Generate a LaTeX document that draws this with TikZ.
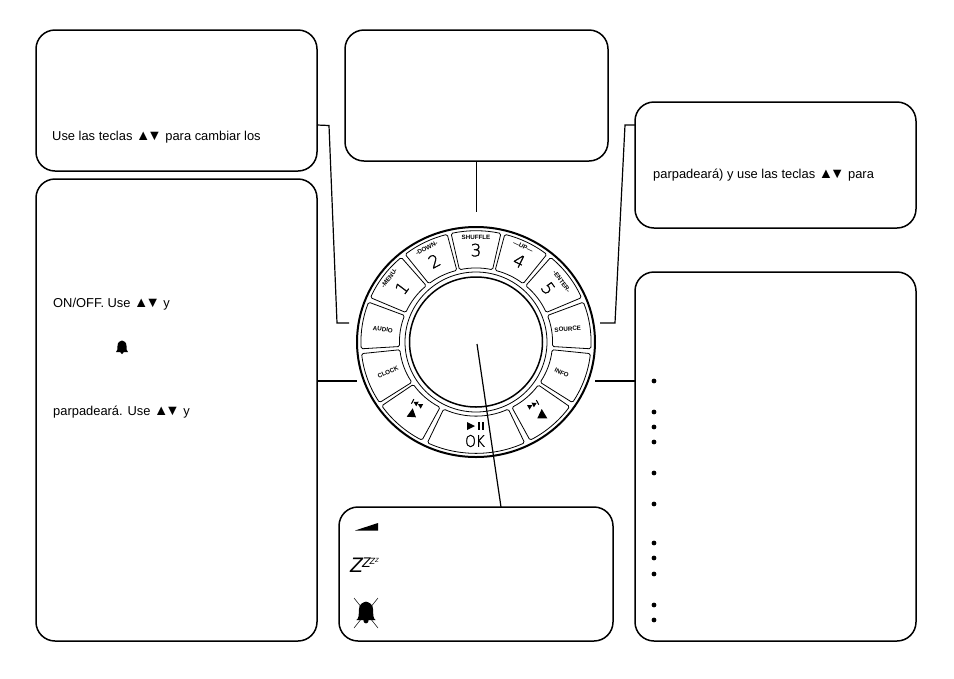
\documentclass[tikz,border=0pt]{standalone}
\usepackage{fontspec}
\setmainfont{Liberation Sans}
\newfontfamily\thinfont[FakeBold=1.5]{DejaVu Sans ExtraLight}
\usetikzlibrary{shapes.geometric}
\newcommand\updown{{\fontsize{14.5}{15}\selectfont▲\kern-3pt▼}}
\tikzset{
    panel/.style={draw,line width=1.5pt,rounded corners=19pt,inner sep=0pt,outer sep=0pt,anchor=north west},
    lead/.style={line width=1.2pt},
    copytext/.style={anchor=west,inner sep=0pt,font=\fontsize{12.9}{15}\selectfont},
    btn/.style={line width=0.8pt,rounded corners=1.5pt},
    keylabel/.style={inner sep=0pt,font=\fontsize{6.2}{7}\selectfont\bfseries},
    keydigit/.style={inner sep=0pt,font=\thinfont\fontsize{17}{20}\selectfont},
    bullet/.style={circle,fill,inner sep=0pt,minimum size=4.8pt},
    rim/.style={ellipse,draw,inner sep=0pt,outer sep=0pt},
    zletter/.style={anchor=north west,inner sep=0pt,font=\itshape},
    bell/.pic={
        \fill (-6,-5) .. controls (-4.5,-4) and (-4.5,-2) .. (-4.5,1) .. controls (-4.5,5) and (-2,6) .. (0,6.5)
            .. controls (2,6) and (4.5,5) .. (4.5,1) .. controls (4.5,-2) and (4.5,-4) .. (6,-5) -- cycle;
        \fill (0,-5.5) circle (1.6);
    },
    skip/.pic={
        \fill (-4.5,0) -- (0,2.6) -- (0,-2.6) -- cycle;
        \fill (0.5,0) -- (5,2.6) -- (5,-2.6) -- cycle;
        \fill (-6,-2.6) rectangle (-5,2.6);
    }
}
\begin{document}
\begin{tikzpicture}[x=1pt,y=1pt]
    \useasboundingbox (0,0) rectangle (954,-678);
    % panels
    \node[panel,minimum width=281pt,minimum height=141pt] (boxtime) at (36,-30) {};
    \node[panel,minimum width=281pt,minimum height=462pt] (boxalarm) at (36,-179) {};
    \node[panel,minimum width=263pt,minimum height=131pt] (boxshuffle) at (345,-30) {};
    \node[panel,minimum width=281pt,minimum height=126pt] (boxenter) at (635,-102) {};
    \node[panel,minimum width=281pt,minimum height=369pt] (boxinfo) at (635,-272) {};
    \node[panel,minimum width=274pt,minimum height=134pt] (boxvolume) at (339,-507) {};
    % texts
    \node[copytext] (txttime) at (52,-137) {Use las teclas \updown{} para cambiar los};
    \node[copytext] (txtonoff) at (53,-304) {ON/OFF. Use \updown{} y};
    \node[copytext] (txtblink) at (53,-412) {parpadeará. Use \updown{} y};
    \node[copytext] (txtenter) at (653,-175) {parpadeará) y use las teclas \updown{} para};
    \pic at (122,-347) {bell};
    \foreach \y in {381,412,427,442,473,504,543,558,574,605,620}
        \node[bullet] at (654,-\y) {};
    % dial
    \node[rim,line width=2pt,minimum width=238pt,minimum height=230pt] (dial) at (476,-342) {};
    \node[rim,line width=0.8pt,minimum width=142pt,minimum height=140pt] (ring) at (dial) {};
    \node[rim,line width=1.5pt,minimum width=133pt,minimum height=130pt] (knob) at (dial) {};
    \begin{scope}[shift={(dial)},yscale=0.967]
        \foreach \a/\b in {77.5/102.5,52/75.5,23.5/49.5,-3.5/21,-33/-6,-62/-35.5,-115/-65,-145/-118,-174/-147,159/183.5,130.5/156.5,104.5/128}
            \draw[btn] (\a:115pt) arc (\a:\b:115pt) -- (\b:76.5pt) arc (\b:\a:76.5pt) -- cycle;
        \foreach \a/\r/\t/\s in {90/108.5/0/SHUFFLE,64.4/109/-26/---UP---,36/106/-54/-ENTER-,117/108.7/28/-DOWN-,142.8/108.9/53/-MENU-,172/94/-8/AUDIO,8.3/92.7/4/SOURCE,199.4/93.3/25/CLOCK,-20.3/91.4/-25/INFO}
            \node[keylabel,rotate=\t] at (\a:\r pt) {\s};
        \foreach \a/\r/\t/\s in {90/95/0/3,62.7/94.3/-26/4,37.5/91/-54/5,116.5/93.6/28/2,143/92.7/53/1}
            \node[keydigit,rotate=\t] at (\a:\r pt) {\s};
    \end{scope}
    % transport keys
    \fill (406.7,-416.7) -- (416,-417.3) -- (412.7,-408.3) -- cycle;
    \pic[rotate=-28] at (417.5,-404) {skip};
    \fill (547.3,-418.3) -- (537.3,-418.3) -- (541.7,-409) -- cycle;
    \pic[rotate=208] at (532.7,-405) {skip};
    \fill (467,-422) -- (467,-430) -- (475,-426) -- cycle;
    \fill (477.5,-422) rectangle (479.5,-430);
    \fill (481.5,-422) rectangle (483.5,-430);
    \node[inner sep=0pt,xscale=0.85,font=\thinfont\fontsize{16}{17}\selectfont] (oklabel) at (475,-441) {OK};
    % connectors
    \coordinate (audioend) at (349,-323);
    \coordinate (sourceend) at (600,-323);
    \coordinate (clockend) at (357,-381);
    \coordinate (infoend) at (595,-381);
    \coordinate (shuffleend) at (476.5,-212);
    \coordinate (knobcentre) at (477,-344);
    \draw[lead] ([yshift=-24.5pt]boxtime.east) -- (329,-125.5) -- (337,-323) -- (audioend);
    \draw[lead] ([yshift=40pt]boxenter.west) -- (625,-125) -- (615,-323) -- (sourceend);
    \draw[lead] ([yshift=29pt]boxalarm.east) -- (clockend);
    \draw[lead] ([yshift=75.5pt]boxinfo.west) -- (infoend);
    \draw[lead] (boxshuffle.south) -- (shuffleend);
    \draw[lead] (knobcentre) -- ([xshift=25pt]boxvolume.north);
    % volume panel icons
    \fill (355,-530.5) -- (378,-523) -- (378,-530.5) -- cycle;
    \node[zletter,font=\itshape\fontsize{21}{21}\selectfont] (zzza) at (350,-558) {Z};
    \node[zletter,font=\itshape\fontsize{14}{14}\selectfont] (zzzb) at (362,-558) {Z};
    \node[zletter,font=\itshape\fontsize{9}{9}\selectfont] (zzzc) at (369.5,-558) {Z};
    \node[zletter,font=\itshape\fontsize{6}{6}\selectfont] (zzzd) at (375,-558) {Z};
    \pic[scale=1.6] at (366,-612) {bell};
    \draw[line width=0.5pt] (354,-598) -- (378,-628) (378,-598) -- (354,-628);
\end{tikzpicture}
\end{document}
